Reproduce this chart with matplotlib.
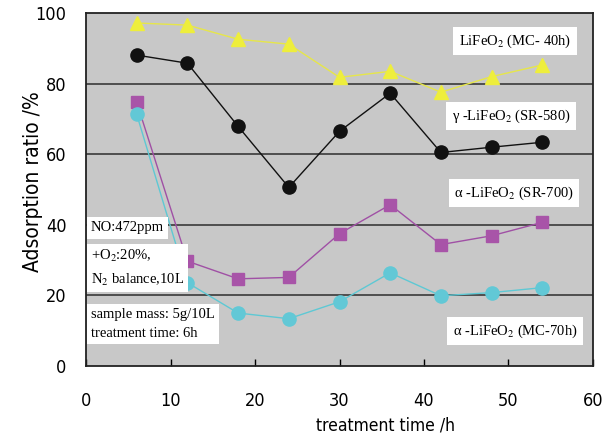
import matplotlib
matplotlib.use("Agg")
import matplotlib.pyplot as plt

# treatment time (h)
hours = [6, 12, 18, 24, 30, 36, 42, 48, 54]

# adsorption ratio (%)
mc40 = [97.2, 96.6, 92.6, 91.2, 81.8, 83.5, 77.6, 82.0, 85.3]
sr580 = [88.1, 85.8, 67.9, 50.6, 66.5, 77.3, 60.5, 62.0, 63.4]
sr700 = [74.7, 29.7, 24.7, 25.1, 37.5, 45.7, 34.4, 36.9, 40.7]
mc70 = [71.3, 23.6, 15.0, 13.4, 18.2, 26.4, 19.9, 20.8, 22.2]

x_ticks = [0, 10, 20, 30, 40, 50, 60]
y_ticks = [0, 20, 40, 60, 80, 100]

plt.rcParams['mathtext.fontset'] = 'stix'
SANS = ['DejaVu Sans']
SERIF = ['Liberation Serif', 'DejaVu Serif']

fig = plt.figure(figsize=(6.11, 4.37), dpi=100)
ax = fig.add_axes([0.1408, 0.1625, 0.8297, 0.8075])
ax.set_facecolor('#c8c8c8')

# grid lines at 20..80
for g in y_ticks[1:-1]:
    ax.axhline(g, color='#3a3a3a', lw=1.2, zorder=1)

ax.plot(hours, mc40, color='#e6e64a', lw=1.0, marker='^', ms=10,
        mfc='#eeee3c', mec='#eeee3c', zorder=3)
ax.plot(hours, sr580, color='#111111', lw=1.0, marker='o', ms=9.5,
        mfc='#111111', mec='#111111', zorder=3)
ax.plot(hours, sr700, color='#a050a5', lw=1.0, marker='s', ms=8.5,
        mfc='#a854a8', mec='#a854a8', zorder=3)
ax.plot(hours, mc70, color='#5ec8d4', lw=1.0, marker='o', ms=9.5,
        mfc='#62c8d6', mec='#62c8d6', zorder=3)

ax.set_xlim(0, 60)
ax.set_ylim(0, 100)
ax.set_xticks(x_ticks)
ax.set_yticks(y_ticks)
ax.tick_params(axis='x', direction='in', length=5, width=1.0, pad=19,
               labelsize=13)
ax.tick_params(axis='y', length=0, pad=14, labelsize=13)
for lab in ax.get_xticklabels() + ax.get_yticklabels():
    lab.set_family(SANS)
    lab.set_stretch('condensed')
for sp in ax.spines.values():
    sp.set_linewidth(1.3)
    sp.set_color('#222222')

fig.text(385 / 611, 1 - 425 / 437, 'treatment time /h', family=SANS,
         stretch='condensed', fontsize=12.5, ha='center', va='center')
fig.text(33 / 611, 1 - 182 / 437, 'Adsorption ratio /%', family=SANS,
         stretch='condensed', fontsize=15, rotation=90,
         ha='center', va='center')

box = dict(facecolor='white', edgecolor='none', pad=4)
labels = [
    (515, 41, 'LiFeO$_2$ (MC- 40h)'),
    (511, 116, 'γ -LiFeO$_2$ (SR-580)'),
    (514, 193, 'α -LiFeO$_2$ (SR-700)'),
    (515, 331, 'α -LiFeO$_2$ (MC-70h)'),
]
for px, py, s in labels:
    fig.text(px / 611, 1 - py / 437, s, ha='center', va='center',
             family=SERIF, fontsize=10.5, bbox=box, zorder=5)

cond = [
    (228, 'NO:472ppm'),
    (268, '+O$_2$:20%,\nN$_2$ balance,10L'),
    (324, 'sample mass: 5g/10L\ntreatment time: 6h'),
]
for py, s in cond:
    fig.text(91 / 611, 1 - py / 437, s, ha='left', va='center',
             family=SERIF, fontsize=10.5, linespacing=1.6,
             bbox=dict(facecolor='white', edgecolor='none', pad=3), zorder=5)

fig.savefig('out.png', dpi=100)
